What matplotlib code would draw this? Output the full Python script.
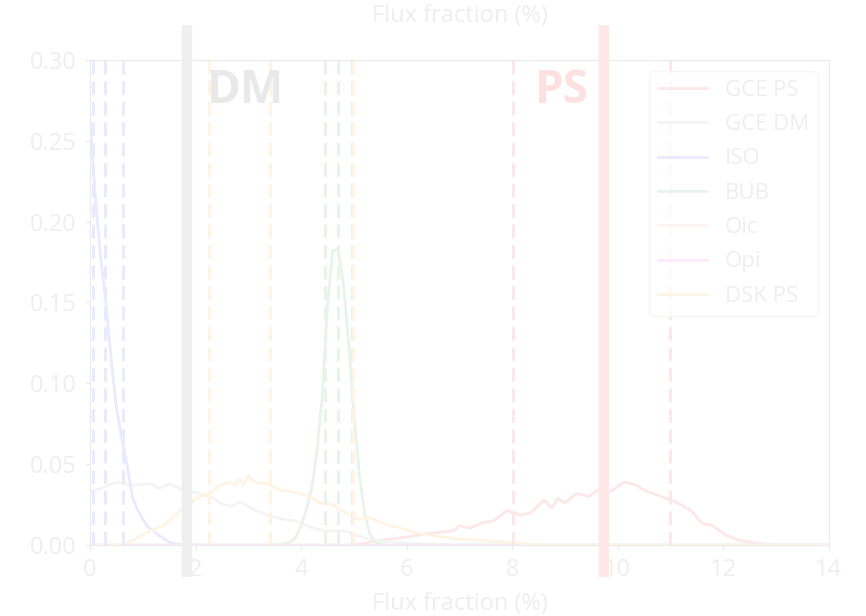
import matplotlib
matplotlib.use('Agg')
import matplotlib.pyplot as plt

plt.rcParams['font.family'] = ['Open Sans', 'DejaVu Sans']

# --- datos ---
labels = ['GCE PS', 'GCE DM', 'ISO', 'BUB', 'Oic', 'Opi', 'DSK PS']

gce_ps_x = [0, 5.0, 5.5, 6.0, 6.4, 6.9, 7.0, 7.2, 7.45, 7.65, 7.9, 8.15, 8.35, 8.6, 8.75, 8.87, 9.0,
            9.22, 9.45, 9.62, 9.85, 10.13, 10.36, 10.5, 10.75, 11.0, 11.2, 11.4, 11.6, 11.8, 12.05,
            12.3, 12.7, 13.0, 14]
gce_ps_y = [0, 0, 0.003, 0.005, 0.0072, 0.009, 0.012, 0.0105, 0.014, 0.015, 0.0215, 0.0185, 0.020,
            0.0278, 0.023, 0.029, 0.026, 0.032, 0.030, 0.034, 0.033, 0.039, 0.037, 0.034, 0.031, 0.028,
            0.025, 0.021, 0.0135, 0.012, 0.0062, 0.003, 0.001, 0, 0]

gce_dm_x = [0, 0.2, 0.5, 0.8, 1.17, 1.3, 1.5, 1.77, 2.08, 2.34, 2.53, 2.7, 2.84, 3.1, 3.41, 3.66, 3.9,
            4.23, 4.48, 4.8, 5.1, 5.4, 6.0, 7.0, 14]
gce_dm_y = [0.033, 0.035, 0.039, 0.037, 0.038, 0.035, 0.038, 0.034, 0.032, 0.029, 0.025, 0.024, 0.027,
            0.022, 0.018, 0.016, 0.015, 0.0105, 0.0087, 0.009, 0.0055, 0.003, 0.001, 0, 0]

iso_x = [0, 0.1, 0.2, 0.3, 0.4, 0.5, 0.6, 0.7, 0.8, 0.9, 1.0, 1.1, 1.2, 1.3, 1.4, 1.5, 1.6, 1.8, 14]
iso_y = [0.262, 0.215, 0.178, 0.15, 0.115, 0.085, 0.066, 0.05, 0.03, 0.022, 0.016, 0.011, 0.009,
         0.006, 0.004, 0.002, 0.001, 0, 0]

bub_x = [0, 3.5, 3.8, 3.9, 4.0, 4.1, 4.2, 4.3, 4.4, 4.5, 4.6, 4.7, 4.8, 4.9, 5.0, 5.1, 5.2, 5.3,
         5.4, 5.6, 14]
bub_y = [0, 0, 0.002, 0.005, 0.012, 0.022, 0.035, 0.058, 0.092, 0.148, 0.182, 0.183, 0.162, 0.125,
         0.082, 0.045, 0.02, 0.007, 0.002, 0, 0]

oic_x = [0, 14]
oic_y = [0, 0]
opi_x = [0, 14]
opi_y = [0, 0]

dsk_x = [0, 0.6, 0.82, 1.14, 1.39, 1.77, 2.02, 2.27, 2.46, 2.65, 2.75, 2.84, 2.9, 3.0, 3.1, 3.35,
         3.6, 3.85, 4.17, 4.36, 4.6, 4.92, 5.1, 5.3, 5.62, 5.9, 6.2, 6.5, 6.9, 7.4, 8.0, 8.6, 14]
dsk_y = [0, 0, 0.003, 0.009, 0.012, 0.023, 0.029, 0.032, 0.037, 0.039, 0.037, 0.041, 0.037, 0.043,
         0.039, 0.038, 0.034, 0.033, 0.030, 0.026, 0.025, 0.0185, 0.016, 0.017, 0.0125, 0.0105,
         0.0075, 0.006, 0.004, 0.003, 0.0015, 0, 0]

# percentiles (lineas discontinuas)
iso_q = [0.06, 0.28, 0.62]
bub_q = [4.45, 4.70, 4.96]
dsk_q = [2.25, 3.41, 4.98]
gce_ps_q = [8.01, 9.74, 11.0]

dm_true = 1.84
ps_true = 9.74

# colores ya desvanecidos
c_ps = '#fde8e8'
c_dm = '#f4f4f4'
c_iso = '#eaeaff'
c_bub = '#e9f4e9'
c_oic = '#fdf2f4'
c_opi = '#fde8fd'
c_dsk = '#fff4e4'
c_txt = '#eeeeee'
c_spine = '#ebebeb'

fig = plt.figure(figsize=(8.66, 6.16), dpi=100)
ax = fig.add_axes([0.104, 0.115, 0.853, 0.788])

#lineas de cada componente
ax.plot(gce_ps_x, gce_ps_y, color=c_ps, lw=2, label=labels[0])
ax.plot(gce_dm_x, gce_dm_y, color=c_dm, lw=2, label=labels[1])
ax.plot(iso_x, iso_y, color=c_iso, lw=2, label=labels[2])
ax.plot(bub_x, bub_y, color=c_bub, lw=2, label=labels[3])
ax.plot(oic_x, oic_y, color=c_oic, lw=2, label=labels[4])
ax.plot(opi_x, opi_y, color=c_opi, lw=2, label=labels[5])
ax.plot(dsk_x, dsk_y, color=c_dsk, lw=2, label=labels[6])

dash = (4.5, 2.2)
for q in gce_ps_q:
    ax.axvline(q, color=c_ps, ls='--', dashes=dash, lw=2.2)
for q in iso_q:
    ax.axvline(q, color=c_iso, ls='--', dashes=dash, lw=2.2)
for q in bub_q:
    ax.axvline(q, color=c_bub, ls='--', dashes=dash, lw=2.2)
for q in dsk_q:
    ax.axvline(q, color=c_dsk, ls='--', dashes=dash, lw=2.2)

# barras gruesas de los valores verdaderos
ax.axvline(dm_true, ymin=-0.066, ymax=1.072, color='#efefef', lw=7.5, clip_on=False, zorder=5,
           solid_capstyle='butt')
ax.axvline(ps_true, ymin=-0.066, ymax=1.072, color='#fde7e7', lw=7.5, clip_on=False, zorder=5,
           solid_capstyle='butt')

ax.text(2.22, 0.273, 'DM', color='#e9e9e9', fontsize=33, fontweight='bold')
ax.text(8.43, 0.273, 'PS', color='#fde0e0', fontsize=33, fontweight='bold')

ax.set_xlim(0, 14)
ax.set_ylim(0, 0.30)
ax.set_xticks([0, 2, 4, 6, 8, 10, 12, 14])
ax.set_yticks([0, 0.05, 0.10, 0.15, 0.20, 0.25, 0.30])
ax.set_yticklabels(['0.00', '0.05', '0.10', '0.15', '0.20', '0.25', '0.30'])
ax.tick_params(colors=c_spine, labelcolor=c_txt, labelsize=17, pad=6)
for s in ax.spines.values():
    s.set_color(c_spine)
ax.set_xlabel('Flux fraction (%)', color=c_txt, fontsize=17, labelpad=7)

top = ax.secondary_xaxis('top')
top.tick_params(top=False, labeltop=False)
top.set_xlabel('Flux fraction (%)', color=c_txt, fontsize=17, labelpad=27)
top.spines['top'].set_color(c_spine)

leg = ax.legend(loc='upper right', fontsize=16, frameon=True, labelcolor=c_txt,
                labelspacing=0.6, handlelength=2.2)
leg.get_frame().set_edgecolor('#f4f4f4')

plt.savefig('out.png', dpi=100)
